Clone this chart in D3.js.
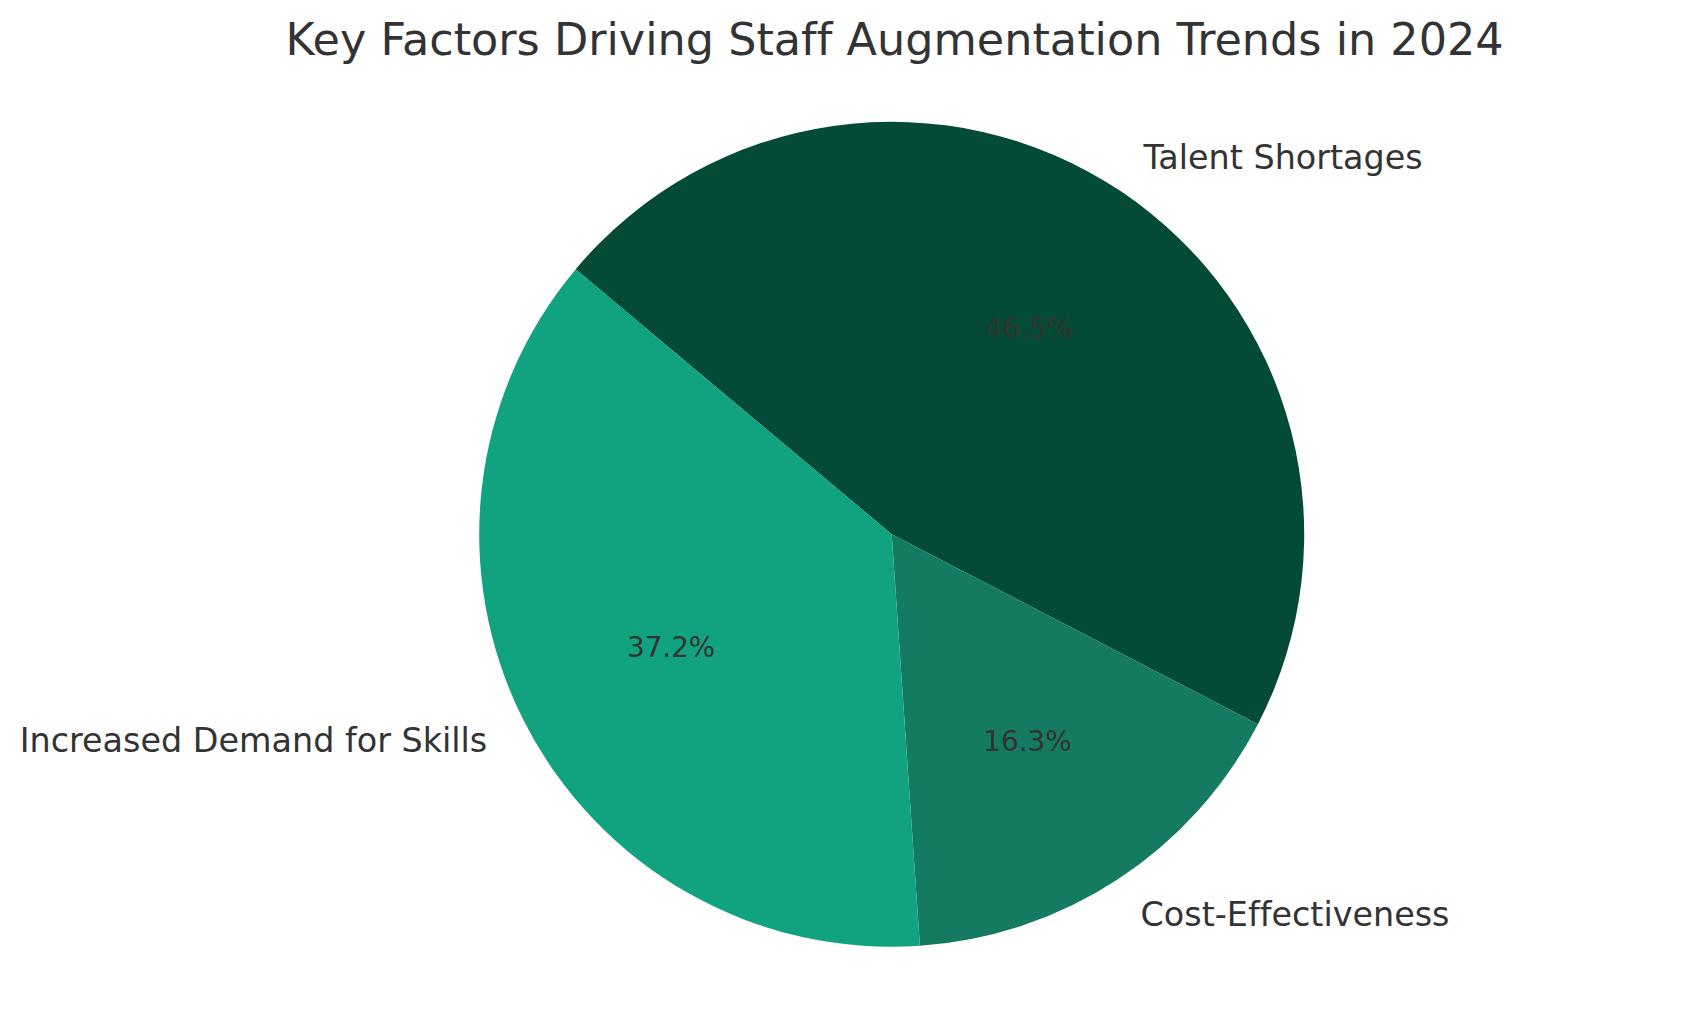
<!DOCTYPE html>
<html>
<head>
<meta charset="utf-8">
<script src="https://cdn.jsdelivr.net/npm/d3@7"></script>
<style>
    body { margin: 0; background: #fff; }
    text { font-family: "DejaVu Sans", sans-serif; fill: #333333; font-variant-ligatures: none; }
</style>
</head>
<body>
<script>
const categories = ['Talent Shortages', 'Cost-Effectiveness', 'Increased Demand for Skills'];
const shares = [46.5, 16.3, 37.2];
const colors = ['#034a37', '#157a62', '#11a37f'];
const title = 'Key Factors Driving Staff Augmentation Trends in 2024';

function makePie(svg) {
    const cx = 891.7, cy = 534.3, r = 412.5;
    const data = categories.map((c, i) => ({ name: c, value: shares[i] }));

    // matplotlib startangle=140, clockwise -> d3 angle from 12 o'clock
    const start = -50 * Math.PI / 180;
    const pie = d3.pie()
        .sort(null)
        .value(d => d.value)
        .startAngle(start)
        .endAngle(start + 2 * Math.PI);

    const color = d3.scaleOrdinal().domain(categories).range(colors);

    const arc = d3.arc().innerRadius(0).outerRadius(r);
    const labelArc = d3.arc().innerRadius(r * 1.1).outerRadius(r * 1.1);
    const pctArc = d3.arc().innerRadius(r * 0.6).outerRadius(r * 0.6);

    const g = svg.append('g').attr('transform', `translate(${cx},${cy})`);
    const arcs = pie(data);

    g.selectAll('path')
        .data(arcs)
        .enter()
        .append('path')
        .attr('d', arc)
        .attr('fill', d => color(d.data.name));

    g.selectAll('text.label')
        .data(arcs)
        .enter()
        .append('text')
        .attr('class', 'label')
        .attr('x', d => labelArc.centroid(d)[0])
        .attr('y', d => labelArc.centroid(d)[1])
        .attr('dy', '0.36em')
        .attr('text-anchor', d => labelArc.centroid(d)[0] > 0 ? 'start' : 'end')
        .style('font-size', '33.4px')
        .text(d => d.data.name);

    g.selectAll('text.pct')
        .data(arcs)
        .enter()
        .append('text')
        .attr('class', 'pct')
        .attr('x', d => pctArc.centroid(d)[0])
        .attr('y', d => pctArc.centroid(d)[1])
        .attr('dy', '0.36em')
        .attr('text-anchor', 'middle')
        .style('font-size', '27.8px')
        .text(d => d.data.value.toFixed(1) + '%');

    svg.append('text')
        .attr('x', 894.6)
        .attr('y', 55)
        .attr('text-anchor', 'middle')
        .style('font-size', '44.5px')
        .text(title);
}

const svg = d3.select('body')
    .append('svg')
    .attr('width', 1689)
    .attr('height', 1014);
makePie(svg);
</script>
</body>
</html>
